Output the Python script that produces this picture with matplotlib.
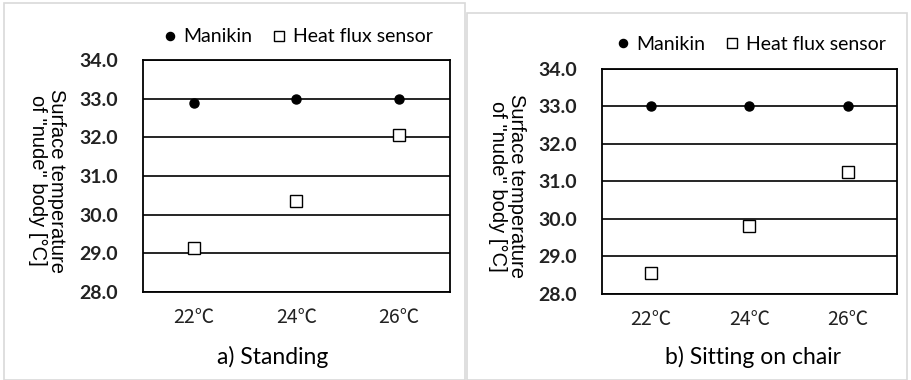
import matplotlib.pyplot as plt
from matplotlib.patches import Rectangle

categories = ['22℃', '24℃', '26℃']
yticks = [28.0, 29.0, 30.0, 31.0, 32.0, 33.0, 34.0]

standing_manikin = [32.9, 33.0, 33.0]
standing_sensor = [29.15, 30.35, 32.05]
sitting_manikin = [33.0, 33.0, 33.0]
sitting_sensor = [28.55, 29.8, 31.25]

titles = ['a) Standing', 'b) Sitting on chair']

plt.rcParams['font.family'] = ['Lato', 'DejaVu Sans']

fig = plt.figure(figsize=(9.12, 3.8), dpi=100)

# light grey frames round each panel (pixel coords -> figure fraction)
W, H = 912, 380
for x0, y0, x1, y1 in [(4, 3, 465, 380), (467, 13, 907, 380)]:
    fig.add_artist(Rectangle((x0 / W, 1 - y1 / H), (x1 - x0) / W, (y1 - y0) / H,
                             transform=fig.transFigure, fill=False,
                             edgecolor='#d9d9d9', linewidth=1.2))

axes_pos = [[143 / W, 1 - 292 / H, 307 / W, 232 / H],
            [602 / W, 1 - 294 / H, 295 / W, 225 / H]]
ylabel_x = [47 / W, 507 / W]
legend_y = [1 - 37 / H, 1 - 44 / H]
title_y = [1 - 357 / H, 1 - 357 / H]
title_x = [273 / W, 753 / W]

data = [(standing_manikin, standing_sensor), (sitting_manikin, sitting_sensor)]

for i in range(2):
    ax = fig.add_axes(axes_pos[i])
    manikin, sensor = data[i]
    x = list(range(len(categories)))
    ax.plot(x, manikin, 'o', color='black', markersize=6.5, label='Manikin', zorder=3)
    ax.plot(x, sensor, 's', markerfacecolor='white', markeredgecolor='black',
            markeredgewidth=1.0, markersize=8, label='Heat flux sensor', zorder=3)
    ax.set_xlim(-0.5, 2.5)
    ax.set_ylim(28, 34)
    ax.set_yticks(yticks)
    ax.set_yticklabels([f'{v:.1f}' for v in yticks], fontsize=14, fontweight='bold', color='#222222')
    ax.set_xticks(x)
    ax.set_xticklabels(categories, fontsize=14, color='#222222',
                       family=['Noto Sans CJK JP', 'DejaVu Sans'])
    ax.tick_params(axis='y', length=0, pad=18)
    ax.tick_params(axis='x', length=0, pad=11)
    ax.grid(axis='y', color='black', linewidth=1.2)
    ax.set_axisbelow(True)
    for s in ax.spines.values():
        s.set_linewidth(1.3)
        s.set_color('black')

    fig.text(ylabel_x[i], axes_pos[i][1] + axes_pos[i][3] / 2 - 0.012,
             'Surface temperature\nof "nude" body [°C]', rotation=270,
             ha='center', va='center', fontsize=14.5, family='Liberation Sans',
             linespacing=0.95)

    fig.text(title_x[i], title_y[i], titles[i], ha='center', va='center', fontsize=16.5)

    cx = axes_pos[i][0] + axes_pos[i][2] / 2
    fig.legend(handles=ax.get_lines(), loc='center', bbox_to_anchor=(cx + 0.002, legend_y[i]),
               ncol=2, frameon=False, fontsize=14, handlelength=0.6, handletextpad=0.4,
               columnspacing=1.1, markerscale=0.9)

fig.savefig('out.png', dpi=100)
